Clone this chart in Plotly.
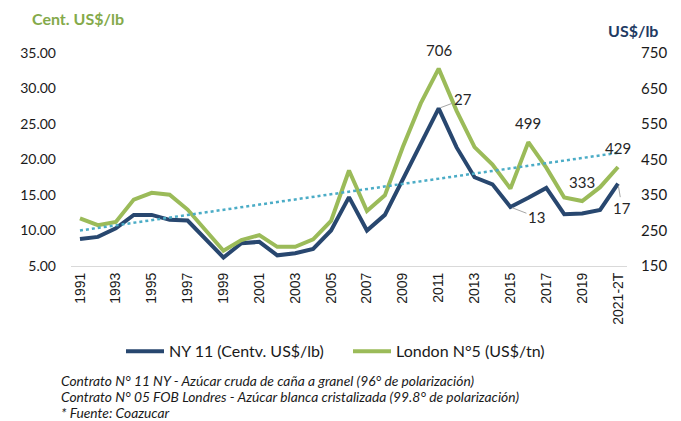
import numpy as np
import plotly.graph_objects as go

# categories and series
years = [str(y) for y in range(1991, 2021)] + ["2021-2T"]
ny11 = [8.8, 9.1, 10.3, 12.2, 12.2, 11.5, 11.4, 8.8, 6.2, 8.2, 8.4, 6.5, 6.8, 7.4, 10.0,
        14.7, 10.0, 12.2, 17.1, 22.2, 27.2, 21.7, 17.5, 16.5, 13.3, 14.6, 16.0, 12.3, 12.4,
        12.9, 16.6]
london5 = [284, 265, 274, 337, 356, 351, 309, 251, 193, 223, 237, 204, 204, 225, 277,
           419, 305, 349, 485, 608, 706, 587, 485, 436, 368, 499, 427, 343, 333, 372, 429]

# data labels shown in the reference
green_labels = {"2011": "706", "2016": "499", "2019": "333", "2021-2T": "429"}
blue_labels = {"2011": "27", "2015": "13", "2021-2T": "17"}

BLUE = "#28476F"
GREEN = "#9BBB59"
TREND = "#4BACC6"

# the page body adds an 8px margin, so the figure is drawn 8px smaller
OFF = 8
W, H = 681 - OFF, 421 - OFF
L, R, T, B = 71 - OFF, 54, 53 - OFF, 154.5


def px_x(x):
    return (x - OFF - L) / (W - L - R)


def px_y(y):
    return (H - B - (y - OFF)) / (H - T - B)


# linear trend of the London series
idx = np.arange(len(years))
slope, intercept = np.polyfit(idx, london5, 1)
trend = slope * idx + intercept

fig = go.Figure()
fig.add_trace(go.Scatter(x=years, y=ny11, name="NY 11 (Centv. US$/lb)", mode="lines",
                         line=dict(color=BLUE, width=4)))
fig.add_trace(go.Scatter(x=years, y=london5, name="London N°5 (US$/tn)", mode="lines",
                         line=dict(color=GREEN, width=4), yaxis="y2"))
fig.add_trace(go.Scatter(x=years, y=trend, mode="lines", showlegend=False, yaxis="y2",
                         line=dict(color=TREND, width=2.5, dash="dot")))

ann = []
for yr, txt in green_labels.items():
    i = years.index(yr)
    ann.append(dict(x=i, y=london5[i], xref="x", yref="y2", text=txt,
                    showarrow=False, yanchor="middle", yshift=19,
                    font=dict(family="Lato", size=15, color="#262626")))

offsets = {"2011": (24, -9), "2015": (26, 10), "2021-2T": (4, 24)}
for yr, txt in blue_labels.items():
    i = years.index(yr)
    ax, ay = offsets[yr]
    ann.append(dict(x=i, y=ny11[i], xref="x", yref="y", text=txt,
                    showarrow=True, arrowhead=0, arrowwidth=1, arrowcolor="#A6A6A6",
                    ax=ax, ay=ay, standoff=2,
                    font=dict(family="Lato", size=15, color="#262626")))

ann.append(dict(x=px_x(30), y=px_y(18), xref="paper", yref="paper", text="<b>Cent. US$/lb</b>",
                showarrow=False, xanchor="left", yanchor="middle",
                font=dict(family="Lato", size=16, color="#84AA4A")))
ann.append(dict(x=px_x(606), y=px_y(30), xref="paper", yref="paper", text="<b>US$/lb</b>",
                showarrow=False, xanchor="left", yanchor="middle",
                font=dict(family="Lato", size=16, color="#1F3B63")))

notes = ["Contrato N° 11 NY - Azúcar cruda de caña a granel (96° de polarización)",
         "Contrato N° 05 FOB Londres - Azúcar blanca cristalizada (99.8° de polarización)",
         "* Fuente: Coazucar"]
for i, line in enumerate(notes):
    ann.append(dict(x=px_x(59), y=px_y(381 + 16 * i), xref="paper", yref="paper",
                    text="<i>" + line + "</i>", showarrow=False, xanchor="left", yanchor="middle",
                    font=dict(family="Lato", size=13.8, color="#1a1a1a")))

fig.update_layout(
    width=W, height=H,
    margin=dict(l=L, r=R, t=T, b=B),
    paper_bgcolor="white", plot_bgcolor="white",
    font=dict(family="Lato", size=15, color="#1a1a1a"),
    xaxis=dict(type="category", range=[-0.5, len(years) - 0.5], tickvals=years[::2],
               tickangle=-90, showgrid=False, automargin=False,
               showline=True, linecolor="#D9D9D9", linewidth=1, ticks="",
               tickfont=dict(family="Liberation Sans", size=14, color="#1a1a1a")),
    yaxis=dict(range=[5, 35], dtick=5, tickformat=".2f", showgrid=False, zeroline=False,
               automargin=False, ticklabelstandoff=14, tickfont=dict(family="Lato", size=14)),
    yaxis2=dict(range=[150, 750], tick0=150, dtick=100, overlaying="y", side="right",
                showgrid=False, zeroline=False, automargin=False, ticklabelstandoff=13,
                tickfont=dict(family="Lato", size=15)),
    legend=dict(orientation="h", x=px_x(121), y=px_y(352), xanchor="left", yanchor="middle",
                font=dict(family="Lato", size=16, color="#1a1a1a"),
                entrywidth=174, entrywidthmode="pixels", itemwidth=38),
    annotations=ann,
    showlegend=True,
)

fig.write_html("out.html")
